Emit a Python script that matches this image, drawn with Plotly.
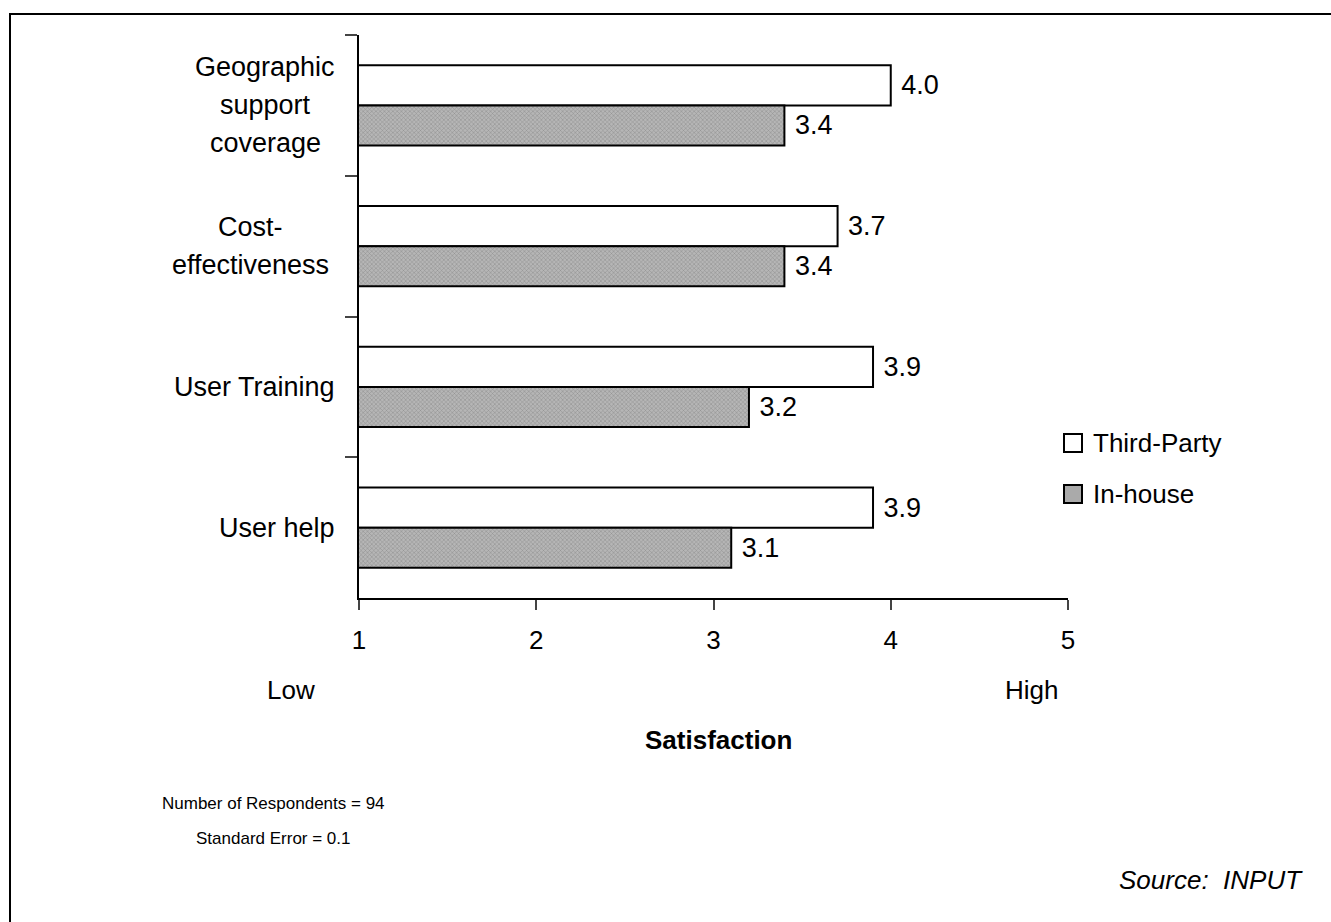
import plotly.graph_objects as go

# Survey results: satisfaction with support, by provider type
categories = ["Geographic support coverage", "Cost-effectiveness", "User Training", "User help"]
label_lines = [["Geographic", "support", "coverage"], ["Cost-", "effectiveness"], ["User Training"], ["User help"]]
third_party = [4.0, 3.7, 3.9, 3.9]
in_house = [3.4, 3.4, 3.2, 3.1]
x_ticks = [1, 2, 3, 4, 5]
series_names = ["Third-Party", "In-house"]
notes = ["Number of Respondents = 94", "Standard Error = 0.1"]

W, H = 1331, 922
L, R, T, B = 359, 1068, 35, 598  # plot area in pixels


def px(x):
    return (x - L) / (R - L)


def py(y):
    return (B - y) / (B - T)


FONT = "Liberation Sans, Arial, Helvetica, sans-serif"
WHITE_FILL = "white"
GRAY_FILL = "#aaaaaa"

fig = go.Figure()
# Third-Party first: on a reversed category axis it sits above In-house in each group
fig.add_trace(go.Bar(
    y=categories, x=third_party, base=0, orientation="h", name=series_names[0],
    marker=dict(color=WHITE_FILL, line=dict(color="black", width=2)),
    texttemplate="\u00a0%{x:.1f}", textposition="outside",
    textfont=dict(size=27, color="black", family=FONT), cliponaxis=False,
))
fig.add_trace(go.Bar(
    y=categories, x=in_house, base=0, orientation="h", name=series_names[1],
    marker=dict(color=GRAY_FILL, line=dict(color="black", width=2),
                pattern=dict(shape="x", fgcolor="#5e5e5e", bgcolor="#b6b6b6", size=3, solidity=0.3)),
    texttemplate="\u00a0%{x:.1f}", textposition="outside",
    textfont=dict(size=27, color="black", family=FONT), cliponaxis=False,
))

annotations = []
# Category labels, one annotation per line so line spacing can be wide
centers = [265, 250, None, None]
line_gap = 38
for i, lines in enumerate(label_lines):
    n = len(lines)
    for j, ln in enumerate(lines):
        shift = -((j - (n - 1) / 2) * line_gap)
        single = n == 1
        annotations.append(dict(
            x=px(337) if single else px(centers[i]), xref="paper", y=categories[i], yref="y",
            text=ln, showarrow=False, xanchor="right" if single else "center", yanchor="middle",
            yshift=shift, font=dict(size=27, color="black", family=FONT)))


def note(x, y, text, size, anchor="center"):
    return dict(x=px(x), y=py(y), xref="paper", yref="paper", text=text, showarrow=False,
                xanchor=anchor, yanchor="middle", font=dict(size=size, color="black", family=FONT))


annotations += [
    note(291, 690, "Low", 26),
    note(1031, 690, "High", 26),
    note(718, 740, "<b>Satisfaction</b>", 26),
    note(273, 803, notes[0], 17),
    note(273, 838, notes[1], 17),
    note(1117, 880, "<i>Source:  INPUT</i>", 26, anchor="left"),
]

# Legend: boxes plus labels at the right of the plot
legend_y = [443, 494]
legend_fill = [WHITE_FILL, GRAY_FILL]
shapes = [dict(type="rect", xref="paper", yref="paper",
               x0=px(10), y0=py(935), x1=px(1345), y1=py(14),
               line=dict(color="black", width=2))]
for name, yc, fill in zip(series_names, legend_y, legend_fill):
    shapes.append(dict(type="rect", xref="paper", yref="paper",
                       x0=px(1064), x1=px(1082), y0=py(yc + 9), y1=py(yc - 9),
                       fillcolor=fill, line=dict(color="black", width=2)))
    annotations.append(note(1091, yc, name, 26, anchor="left"))

fig.update_layout(
    width=W, height=H,
    margin=dict(l=L, r=W - R, t=T, b=H - B, pad=0),
    paper_bgcolor="white", plot_bgcolor="white",
    barmode="group", bargap=0.43, bargroupgap=0.0,
    font=dict(family=FONT, size=26, color="black"),
    showlegend=False,
    annotations=annotations,
    shapes=shapes,
)
fig.update_xaxes(range=[1, 5], tickvals=x_ticks, ticks="outside", ticklen=10, tickwidth=2,
                 showline=True, linecolor="black", linewidth=2, showgrid=False, zeroline=False,
                 ticklabelstandoff=8,
                 tickfont=dict(size=26, color="black", family=FONT))
fig.update_yaxes(type="category", categoryorder="array", categoryarray=categories,
                 autorange="reversed", tickson="boundaries", ticks="outside", ticklen=12, tickwidth=2,
                 showticklabels=False, showline=True, linecolor="black", linewidth=2, showgrid=False)

fig.write_html("out.html")
